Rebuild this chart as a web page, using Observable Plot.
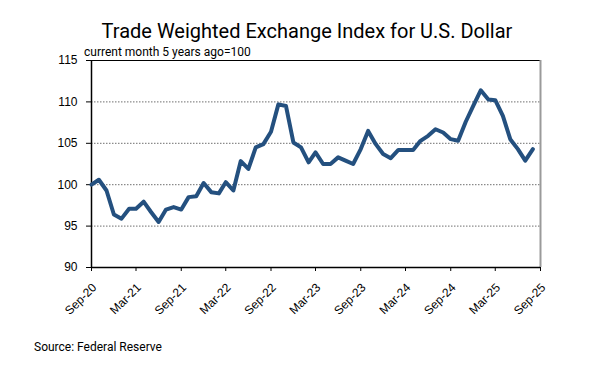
<!DOCTYPE html>
<html>
<head>
<meta charset="utf-8">
<script src="https://cdn.jsdelivr.net/npm/d3@7"></script>
<script src="https://cdn.jsdelivr.net/npm/@observablehq/plot@0.6"></script>
<style>
  html, body { margin: 0; padding: 0; background: #fff; }
  #wrap { position: relative; width: 605px; height: 382px; overflow: hidden; }
  .t { position: absolute; white-space: nowrap; color: #000; font-family: Roboto, "Noto Sans", sans-serif; }
  #title { left: 0; width: 614px; text-align: center; top: 21px; font-size: 20px; line-height: 20px; }
  #sub { left: 84px; top: 46px; font-size: 12px; line-height: 12px; }
  #src { left: 34px; top: 341px; font-size: 12px; line-height: 12px; }
</style>
</head>
<body>
<div id="wrap">
  <div class="t" id="title">Trade Weighted Exchange Index for U.S. Dollar</div>
  <div class="t" id="sub">current month 5 years ago=100</div>
  <div class="t" id="src">Source: Federal Reserve</div>
</div>
<script>
const months = [
  "2020-09","2020-10","2020-11","2020-12",
  "2021-01","2021-02","2021-03","2021-04","2021-05","2021-06","2021-07","2021-08","2021-09","2021-10","2021-11","2021-12",
  "2022-01","2022-02","2022-03","2022-04","2022-05","2022-06","2022-07","2022-08","2022-09","2022-10","2022-11","2022-12",
  "2023-01","2023-02","2023-03","2023-04","2023-05","2023-06","2023-07","2023-08","2023-09","2023-10","2023-11","2023-12",
  "2024-01","2024-02","2024-03","2024-04","2024-05","2024-06","2024-07","2024-08","2024-09","2024-10","2024-11","2024-12",
  "2025-01","2025-02","2025-03","2025-04","2025-05","2025-06","2025-07","2025-08"
];
const values = [
  100.0, 100.6, 99.3, 96.4,
  95.9, 97.1, 97.1, 97.95, 96.7, 95.5, 97.0, 97.3, 97.0, 98.5, 98.6, 100.2,
  99.1, 98.95, 100.3, 99.3, 102.85, 101.9, 104.5, 104.9, 106.4, 109.7, 109.5, 105.1,
  104.5, 102.7, 103.9, 102.5, 102.5, 103.3, 102.9, 102.5, 104.3, 106.5, 104.9, 103.7,
  103.2, 104.2, 104.2, 104.2, 105.3, 105.9, 106.7, 106.3, 105.5, 105.3, 107.6, 109.5,
  111.4, 110.3, 110.2, 108.3, 105.5, 104.3, 102.9, 104.3
];
const xTickMonths = ["2020-09","2021-03","2021-09","2022-03","2022-09","2023-03","2023-09","2024-03","2024-09","2025-03","2025-09"];
const yTicks = [90, 95, 100, 105, 110, 115];
const gridValues = [95, 100, 105, 110];

const parse = d3.utcParse("%Y-%m");
const fmt = d3.utcFormat("%b-%y");
const data = months.map((m, i) => ({date: parse(m), value: values[i]}));
const xTicks = xTickMonths.map(parse);
const x0 = xTicks[0], x1 = xTicks[xTicks.length - 1];

const chart = Plot.plot({
  width: 605,
  height: 382,
  marginLeft: 91,
  marginRight: 65,
  marginTop: 60,
  marginBottom: 115,
  style: {fontFamily: "'Liberation Sans', Arial, sans-serif", fontSize: "12px", color: "#000", background: "transparent", overflow: "visible"},
  x: {type: "utc", domain: [x0, x1], axis: null},
  y: {domain: [90, 115], axis: null},
  marks: [
    Plot.ruleY(gridValues, {stroke: "#6f6f6f", strokeWidth: 1, strokeDasharray: "1.5,1.5"}),
    Plot.ruleY([115], {stroke: "#000", strokeWidth: 1.2}),
    Plot.ruleX([x1], {stroke: "#9a9a9a", strokeWidth: 2}),
    Plot.axisY(yTicks, {tickSize: 5, tickPadding: 9, fontSize: 12, label: null, stroke: "#000"}),
    Plot.axisX(xTicks, {tickSize: 4, tickFormat: () => "", label: null, stroke: "#000"}),
    Plot.ruleX([x0], {stroke: "#000", strokeWidth: 1.5}),
    Plot.ruleY([90], {stroke: "#000", strokeWidth: 1.5}),
    Plot.line(data, {x: "date", y: "value", stroke: "#24507f", strokeWidth: 4, strokeLinejoin: "round", strokeLinecap: "round"}),
    Plot.text(xTicks, {x: d => d, y: 90, text: d => fmt(d), rotate: -45, textAnchor: "end", lineAnchor: "middle", dx: 3, dy: 18, fontSize: 12, fill: "#000"})
  ]
});
chart.style.position = "absolute";
chart.style.left = "0px";
chart.style.top = "0px";
document.getElementById("wrap").prepend(chart);
</script>
</body>
</html>
